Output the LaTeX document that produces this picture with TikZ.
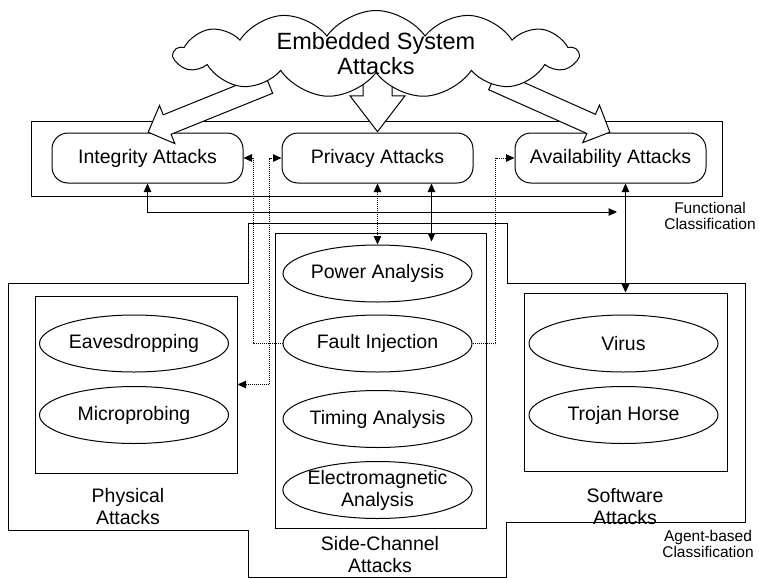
\documentclass[tikz,border=0pt]{standalone}
\usepackage{fontspec}
\setmainfont{Liberation Sans}
\usepackage{tikz}
\usetikzlibrary{arrows.meta,shapes.geometric,shapes.symbols,shapes.arrows,calc}

\begin{document}
\begin{tikzpicture}[x=1pt, y=-1pt, line width=1pt,
  >={Triangle[length=8.5pt,width=7.5pt]},
  every node/.style={font=\fontsize{19.5}{22}\selectfont, align=center},
  attackbox/.style={draw, rounded corners=16pt, minimum width=191pt, minimum height=50pt, inner sep=0pt},
  attackoval/.style={draw, ellipse, minimum width=189pt, minimum height=57pt, inner xsep=-4pt, inner ysep=0pt},
  groupbox/.style={draw, inner sep=0pt},
  fatarrow/.style={draw, fill=white, single arrow, single arrow head extend=10pt, inner sep=10pt, anchor=tip},
  smalltext/.style={font=\fontsize{15.5}{16.5}\selectfont},
  linkdot/.style={densely dotted}]
\useasboundingbox (0,0) rectangle (759,578);

% agent-based outline
\draw (8,283) -- (248,283) -- (248,223) -- (507,223) -- (507,283) -- (745,283)
  -- (745,522) -- (506,522) -- (506,577) -- (248,577) -- (248,530) -- (8,530) -- cycle;

% functional classification
\node[groupbox, minimum width=691pt, minimum height=75pt] (func) at (376.5,158.5) {};
\node[attackbox] (integ) at (147.5,158) {Integrity Attacks};
\node[attackbox] (priv)  at (377.5,158) {Privacy Attacks};
\node[attackbox] (avail) at (610.5,158) {Availability Attacks};

% agent-based groups
\node[groupbox, minimum width=202pt, minimum height=177pt] (phys) at (136,384.5) {};
\node[groupbox, minimum width=211pt, minimum height=295pt] (side) at (380.5,380.5) {};
\node[groupbox, minimum width=203pt, minimum height=178pt] (soft) at (625.5,382) {};

\node[attackoval] (eaves) at (134,343.5) {Eavesdropping};
\node[attackoval] (micro) at (134,415) {Microprobing};

\node[attackoval] (power) at (377.5,273.5) {Power Analysis};
\node[attackoval] (fault) at (377.5,343.5) {Fault Injection};
\node[attackoval] (timing) at (377.5,419) {Timing Analysis};
\node[attackoval, inner xsep=-3pt] (emag) at (377.5,490) {Electromagnetic\\Analysis};

\node[attackoval] (virus)  at (623.5,343.5) {Virus};
\node[attackoval] (trojan) at (623.5,415) {Trojan Horse};

\node (physlbl) at (128,507) {Physical\\Attacks};
\node (sidelbl) at (380,555) {Side-Channel\\Attacks};
\node (softlbl) at (625,507) {Software\\Attacks};

\node[smalltext] (funclbl)  at (710,216) {Functional\\Classification};
\node[smalltext] (agentlbl) at (708,544) {Agent-based\\Classification};

% solid links
\coordinate (fend) at (617,212);
\draw[<->] (integ.south) -- (integ.south |- fend) -- (fend);
\draw[<->] (soft.north |- avail.south) -- (soft.north);
\draw[<->] ($(priv.south)+(54,0)$) -- ($(power.north)+(54,-3)$);
\draw[<->, linkdot] (priv.south) -- (power.north);

% dotted links
\draw[->, linkdot] (fault.west) -- ++(-29,0) |- (integ.east);
\draw[<->, linkdot] (phys.east) -- ++(32,0) |- (priv.west);
\draw[->, linkdot] (fault.east) -- ++(23,0) |- (avail.west);

% big arrows out of the cloud
\node[fatarrow, rotate=202, minimum height=130pt] (tointeg) at (integ.north) {};
\node[fatarrow, rotate=-24, minimum height=128pt] (toavail) at (avail.north) {};
\node[fatarrow, rotate=-90, minimum height=62pt, inner sep=14pt,
  single arrow head extend=13pt, single arrow tip angle=75] (topriv) at (priv.north) {};

% cloud
\node[draw, fill=white, cloud, cloud puffs=13, cloud puff arc=110, cloud ignores aspect,
  minimum width=403pt, minimum height=87pt, inner xsep=0pt, inner ysep=-10pt,
  font=\fontsize{23.5}{25}\selectfont] (cloud) at (376,54) {Embedded System\\Attacks};
\end{tikzpicture}
\end{document}
